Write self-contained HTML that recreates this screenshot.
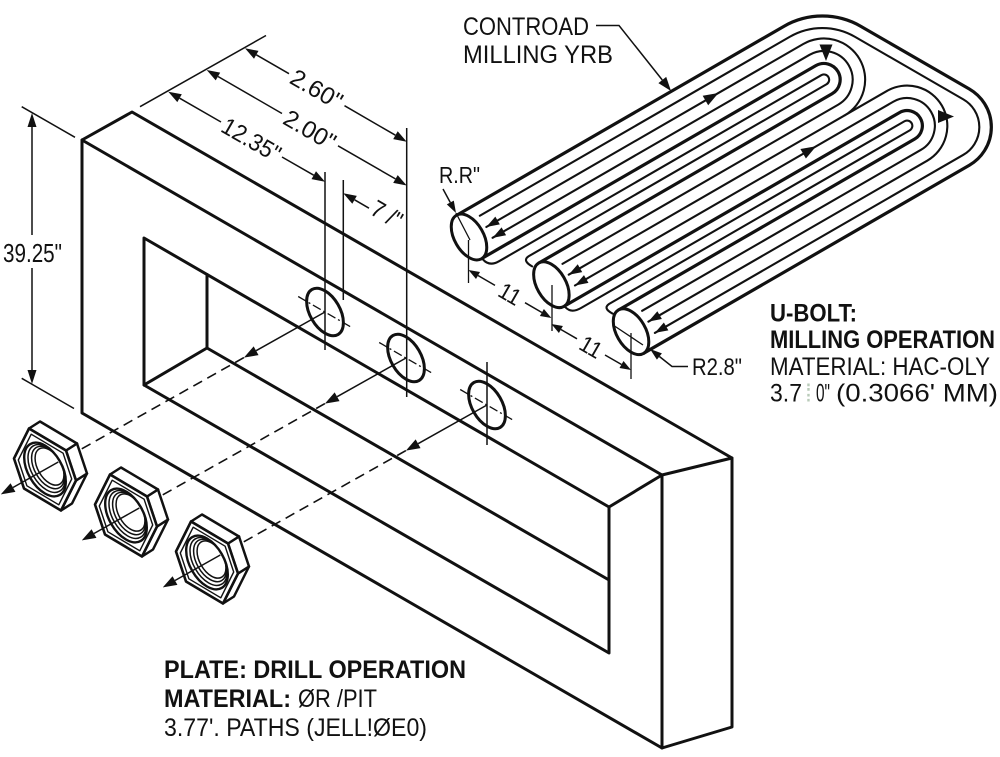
<!DOCTYPE html>
<html>
<head>
<meta charset="utf-8">
<style>
  html,body{margin:0;padding:0;background:#fff;}
  svg{display:block;}
  .p{stroke:#111;stroke-width:3;fill:none;stroke-linecap:round;stroke-linejoin:round}
  .d{stroke:#111;stroke-width:1.5;fill:none}
  .c{stroke:#111;stroke-width:1.3;fill:none}
  .cd{stroke:#111;stroke-width:1.3;fill:none;stroke-dasharray:9 3 2 3}
  .ds{stroke:#111;stroke-width:1.6;fill:none;stroke-dasharray:10 6}
  .k{stroke:#111;stroke-width:3.2;fill:none;stroke-linejoin:round;stroke-linecap:round}
  .t{stroke:#111;stroke-width:2.1;fill:none;stroke-linejoin:round;stroke-linecap:round}
  .a{fill:#111;stroke:none}
  text{fill:#111;font-family:"Liberation Sans",Arial,sans-serif;}
</style>
</head>
<body>
<svg width="1000" height="757" viewBox="0 0 1000 757" xmlns="http://www.w3.org/2000/svg">
<rect width="1000" height="757" fill="#fff"/>

<defs>
  <g id="nut">
    <polygon points="16,41 31,11 42,4 27,34" fill="#fff" stroke="#111" stroke-width="2.5" stroke-linejoin="round"/>
    <polygon points="31,11 21,-19 32,-26 42,4" fill="#fff" stroke="#111" stroke-width="2.5" stroke-linejoin="round"/>
    <polygon points="21,-19 -16,-41 -5,-48 32,-26" fill="#fff" stroke="#111" stroke-width="2.5" stroke-linejoin="round"/>
    <polygon points="-16,-41 -31,-11 -21,19 16,41 31,11 21,-19" fill="#fff" stroke="#111" stroke-width="2.6" stroke-linejoin="round"/>
    <polygon points="-13.8,-35.3 -26.7,-9.5 -18.1,16.3 13.8,35.3 26.7,9.5 18.1,-16.3" fill="none" stroke="#111" stroke-width="1.4" stroke-linejoin="round"/>
    <ellipse cx="0" cy="0" rx="29.4" ry="17" transform="rotate(60)" fill="#fff" stroke="#111" stroke-width="2.4"/>
    <ellipse cx="1.5" cy="-1" rx="26.2" ry="15.1" transform="rotate(60 1.5 -1)" fill="none" stroke="#111" stroke-width="1.5"/>
    <ellipse cx="3" cy="-2" rx="23.2" ry="13.4" transform="rotate(60 3 -2)" fill="none" stroke="#111" stroke-width="1.5"/>
    <ellipse cx="4.5" cy="-3" rx="20.4" ry="11.8" transform="rotate(60 4.5 -3)" fill="none" stroke="#111" stroke-width="1.5"/>
  </g>
</defs>

<!-- ================= PLATE ================= -->
<path class="p" d="M82,140 L132,112 L732,458 L732,727 L662,748 L82,413 Z"/>
<path class="p" d="M82,140 L662,475 L662,748 M662,475 L732,458"/>
<path class="p" d="M144,238 L609,507 L609,653 L144,385 Z M609,507 L662,475"/>
<path class="p" d="M207,274.5 L207,348 M144,385 L207,348 L609,580"/>

<!-- 39.25 dimension -->
<path class="d" d="M21.7,106.7 L75,137.3 M21.7,378.3 L74,408.5"/>
<path class="d" d="M32,125 L32,235 M32,268 L32,372"/>
<polygon class="a" points="32,113 27.5,127 36.5,127"/>
<polygon class="a" points="32,384 27.5,370 36.5,370"/>
<text x="3" y="262" font-size="26" textLength="59" lengthAdjust="spacingAndGlyphs">39.25"</text>

<!-- top dimensions -->
<path class="d" d="M140,106.7 L266,35.5"/>
<path class="d" d="M406.7,128 L406.7,397 M325,172 L325,350 M343.3,180 L343.3,300 M487,362 L487,445"/>
<!-- 2.60 -->
<path class="d" d="M256.3,54.8 L289,73.7 M344.5,105.7 L395.4,135.2"/>
<polygon class="a" points="245,48.3 254,58.7 258.5,50.9"/>
<polygon class="a" points="406.7,141.7 393.2,139.1 397.7,131.3"/>
<text transform="translate(316.7,89) rotate(30)" x="-28" y="8.5" font-size="24" textLength="56" lengthAdjust="spacingAndGlyphs">2.60"</text>
<!-- 2.00 -->
<path class="d" d="M218,76.5 L282,113.5 M338,145.8 L395.4,178.9"/>
<polygon class="a" points="206.7,70 215.7,80.4 220.2,72.6"/>
<polygon class="a" points="406.7,185.5 393.2,182.9 397.7,175.1"/>
<text transform="translate(310,129.7) rotate(30)" x="-28" y="8.5" font-size="24" textLength="56" lengthAdjust="spacingAndGlyphs">2.00"</text>
<!-- 12.35 -->
<path class="d" d="M179.6,98.2 L221,122 M282,157 L313.7,175.2"/>
<polygon class="a" points="168.3,91.7 177.3,102.1 181.8,94.3"/>
<polygon class="a" points="325,181.7 311.5,179.1 316,171.3"/>
<text transform="translate(251.5,139.5) rotate(30)" x="-32" y="8.5" font-size="24" textLength="64" lengthAdjust="spacingAndGlyphs">12.35"</text>
<!-- 7 / -->
<path class="d" d="M354.6,199.8 L369,208.2"/>
<polygon class="a" points="343.3,193.3 352.3,203.7 356.8,195.9"/>
<text transform="translate(387,214) rotate(30)" x="-16" y="8.5" font-size="24" textLength="32" lengthAdjust="spacingAndGlyphs">7 /"</text>

<!-- holes -->
<ellipse cx="325" cy="312" rx="26" ry="15" transform="rotate(60 325 312)" fill="none" stroke="#111" stroke-width="3"/>
<ellipse cx="406" cy="358" rx="26" ry="15" transform="rotate(60 406 358)" fill="none" stroke="#111" stroke-width="3"/>
<ellipse cx="487" cy="405" rx="26" ry="15" transform="rotate(60 487 405)" fill="none" stroke="#111" stroke-width="3"/>
<path class="cd" d="M298.2,296.5 L351.8,327.5 M379.2,342.5 L432.8,373.5 M460.2,389.5 L513.8,420.5"/>

<!-- hole arrows -->
<path class="d" d="M325,312 L256.1,350.7 M406,358 L337.1,396.7 M487,405 L418.1,443.7"/>
<polygon class="a" points="243.9,357.6 253.65,346.4 258.55,355.1"/>
<polygon class="a" points="324.9,403.6 334.65,392.4 339.55,401.1"/>
<polygon class="a" points="405.9,450.6 415.65,439.4 420.55,448.1"/>
<path class="ds" d="M243.9,357.6 L63.5,459.1 M324.9,403.6 L144.5,505.1 M405.9,450.6 L225.5,552.1"/>

<!-- nuts -->
<use href="#nut" transform="translate(45,469.5)"/>
<use href="#nut" transform="translate(126,515.5)"/>
<use href="#nut" transform="translate(207,562.5)"/>
<path class="d" d="M58.3,462 L13,487.5 M139.3,508 L94,533.5 M220.3,555 L175,580.5"/>
<polygon class="a" points="0.8,494.4 10.55,483.2 15.45,491.9"/>
<polygon class="a" points="81.8,540.4 91.55,529.2 96.45,537.9"/>
<polygon class="a" points="162.8,587.4 172.55,576.2 177.45,584.9"/>

<!-- ================= U-BOLT ================= -->
<g transform="translate(469,237) rotate(-30)">
  <path class="k" d="M0,-25 L378,-25 A77,77 0 0 1 444.7,13.5 L507.3,122 A44,44 0 0 1 469.2,188 L93,188"/>
  <path class="t" d="M20,-13 L378,-13 A65,65 0 0 1 434.3,19.5 L496.9,128 A32,32 0 0 1 469.2,176 L113,176"/>
  <path class="t" d="M20,0 L386,0 A41.25,41.25 0 0 1 386,82.5 L435,82.5 A40.25,40.25 0 0 1 435,163 L113,163"/>
  <path class="t" d="M67.5,82.5 L386,82.5"/>
  <path class="t" d="M20,12.5 L386,12.5 A28.75,28.75 0 0 1 386,70 L67.5,70"/>
  <path class="k" d="M0,25 L386,25 A16.25,16.25 0 0 1 386,57.5 L47.5,57.5"/>
  <path class="t" d="M1,27 Q3,36 14,36 L386,36 A5.25,5.25 0 0 1 386,46.5 L42,46.5 Q34,47 40,57"/>
  <path class="t" d="M67.5,95 L435,95 A27.75,27.75 0 0 1 435,150.5 L113,150.5"/>
  <path class="k" d="M47.5,107.5 L435,107.5 A15.25,15.25 0 0 1 435,138 L93,138"/>
  <path class="t" d="M48.5,109.5 Q50.5,117.5 61.5,117.5 L435,117.5 A5.25,5.25 0 0 1 435,128 L88,128 Q80,128.5 86,138"/>

  <!-- end arrows -->
  <polygon class="a" points="20,0 33,-4.5 33,4.5"/>
  <polygon class="a" points="20,12.5 33,8 33,17"/>
  <polygon class="a" points="67.5,82.5 80.5,78 80.5,87"/>
  <polygon class="a" points="67.5,95 80.5,90.5 80.5,99.5"/>
  <polygon class="a" points="113,163 126,158.5 126,167.5"/>
  <polygon class="a" points="113,176 126,171.5 126,180.5"/>
  <!-- mid arrows -->
  <polygon class="a" points="288,0 273,-5.5 273,5.5"/>
  <polygon class="a" points="346,95 331,89.5 331,100.5"/>

  <!-- rod ends -->
  <ellipse cx="0" cy="0" rx="14.5" ry="25.1" fill="#fff" stroke="#111" stroke-width="3"/>
  <ellipse cx="47.5" cy="82.5" rx="14.5" ry="25.1" fill="#fff" stroke="#111" stroke-width="3"/>
  <ellipse cx="93" cy="163" rx="14.5" ry="25.1" fill="#fff" stroke="#111" stroke-width="3"/>
</g>
<polygon class="a" points="826,61 819.5,44.5 832.5,44.5"/>
<polygon class="a" points="954,116.5 938,110 938,123"/>

<!-- U-bolt annotations -->
<text x="463" y="35" font-size="25" textLength="126" lengthAdjust="spacingAndGlyphs">CONTROAD</text>
<text x="463" y="63" font-size="25" textLength="150" lengthAdjust="spacingAndGlyphs">MILLING YRB</text>
<path class="d" d="M596,25.5 L619,25.5 L662.3,80"/>
<polygon class="a" points="671,91 658.4,83.1 666.2,76.9"/>

<text x="439" y="183" font-size="23" textLength="41" lengthAdjust="spacingAndGlyphs">R.R"</text>
<path class="d" d="M443,189 L450.3,202.5"/>
<polygon class="a" points="456,213 446.8,204.4 453.8,200.6"/>
<path class="c" d="M456,213 L470,240 M468.5,240 L468.5,283 M552,285 L552,331 M631,333 L631,379 M613,325 L643,345"/>

<!-- 11 dims -->
<path class="d" d="M478,275.5 L495,285.4 M525,302.7 L541.9,312.5"/>
<polygon class="a" points="468.5,270 476,279 480,272"/>
<polygon class="a" points="551.4,318 539.9,316 543.9,309"/>
<text transform="translate(510,294) rotate(30)" x="-11" y="8" font-size="23" textLength="22" lengthAdjust="spacingAndGlyphs">11</text>
<path class="d" d="M560.9,329.5 L577,338.8 M605,355 L621.5,364.5"/>
<polygon class="a" points="551.4,324 558.9,333 562.9,326"/>
<polygon class="a" points="631,370 619.5,368 623.5,361"/>
<text transform="translate(591,347) rotate(30)" x="-11" y="8" font-size="23" textLength="22" lengthAdjust="spacingAndGlyphs">11</text>

<!-- R2.8 -->
<path class="d" d="M659.4,356.5 L672,366.5 L688,366.5"/>
<polygon class="a" points="650,349 661.9,353.4 656.9,359.6"/>
<text x="692" y="375" font-size="24" textLength="50" lengthAdjust="spacingAndGlyphs">R2.8"</text>

<!-- U-bolt text block -->
<text x="770" y="321.5" font-size="25" font-weight="bold" textLength="87" lengthAdjust="spacingAndGlyphs">U-BOLT:</text>
<text x="770" y="348" font-size="25" font-weight="bold" textLength="225" lengthAdjust="spacingAndGlyphs">MILLING OPERATION</text>
<text x="770" y="375" font-size="25" textLength="220" lengthAdjust="spacingAndGlyphs">MATERIAL: HAC-OLY</text>
<text x="770" y="401.5" font-size="25" textLength="32" lengthAdjust="spacingAndGlyphs">3.7</text>
<text x="805" y="401.5" font-size="25" style="fill:#b9cbb9">⁞</text>
<text x="816" y="401.5" font-size="25" textLength="14" lengthAdjust="spacingAndGlyphs">0"</text>
<text x="836" y="401.5" font-size="25" textLength="162" lengthAdjust="spacingAndGlyphs">(0.3066' MM)</text>

<!-- Plate text block -->
<text x="164" y="678" font-size="25" font-weight="bold" textLength="302" lengthAdjust="spacingAndGlyphs">PLATE: DRILL OPERATION</text>
<text x="164" y="707" font-size="25" font-weight="bold" textLength="127" lengthAdjust="spacingAndGlyphs">MATERIAL:</text>
<text x="298" y="707" font-size="25" textLength="79" lengthAdjust="spacingAndGlyphs">ØR /PIT</text>
<text x="164" y="736" font-size="25" textLength="263" lengthAdjust="spacingAndGlyphs">3.77'. PATHS (JELL!ØE0)</text>

</svg>
</body>
</html>
